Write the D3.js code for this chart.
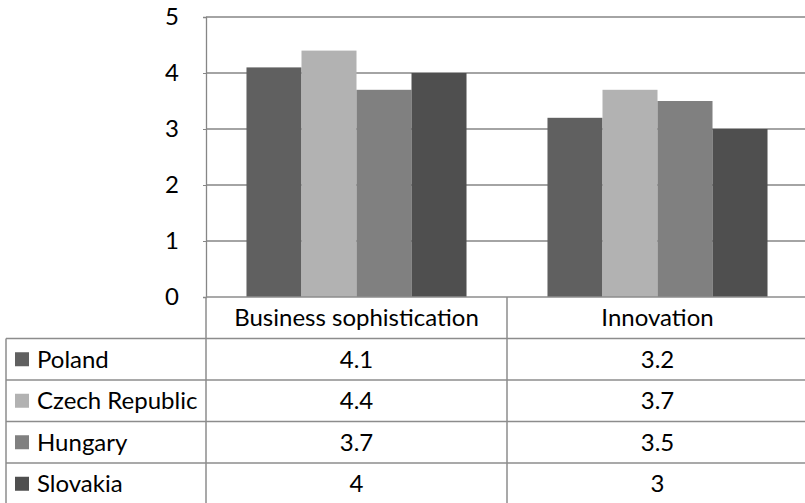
<!DOCTYPE html>
<html>
<head>
<meta charset="utf-8">
<script src="https://cdn.jsdelivr.net/npm/d3@7"></script>
<style>
  html, body { margin: 0; padding: 0; background: #fff; }
  svg { display: block; }
  text { font-family: Lato, "Noto Sans", sans-serif; fill: #000; }
</style>
</head>
<body>
<svg id="chart" width="805" height="503"></svg>
<script>
// ---- data ----
const categories = ["Business sophistication", "Innovation"];
const seriesNames = ["Poland", "Czech Republic", "Hungary", "Slovakia"];
const poland = [4.1, 3.2];
const czechRepublic = [4.4, 3.7];
const hungary = [3.7, 3.5];
const slovakia = [4, 3];
const seriesValues = [poland, czechRepublic, hungary, slovakia];
const yTicks = [0, 1, 2, 3, 4, 5];
const colors = ["#606060", "#b2b2b2", "#808080", "#4f4f4f"];

// ---- layout ----
const svg = d3.select("#chart");
const plotLeft = 206, plotRight = 808, plotTop = 17, plotBottom = 297;
const tableLeft = 6;
const rowH = 41.5;
const fontSize = 24;
const gridColor = "#868686";

const x0 = d3.scaleBand().domain(categories).range([plotLeft, plotRight]).paddingInner(0).paddingOuter(0);
const x1 = d3.scaleBand().domain(seriesNames).range([0, x0.bandwidth()]).paddingInner(0).paddingOuter(0.736);
const y = d3.scaleLinear().domain([0, 5]).range([plotBottom, plotTop]);

// gridlines
svg.append("g").selectAll("line").data(yTicks.filter(t => t > 0)).join("line")
  .attr("x1", plotLeft).attr("x2", plotRight)
  .attr("y1", d => Math.round(y(d))).attr("y2", d => Math.round(y(d)))
  .attr("stroke", gridColor).attr("stroke-width", 1.3);

// bars
const groups = svg.append("g").selectAll("g").data(categories).join("g")
  .attr("transform", d => `translate(${x0(d)},0)`);
groups.selectAll("rect").data((c, ci) => seriesNames.map((s, si) => ({ s, si, v: seriesValues[si][ci] })))
  .join("rect")
  .attr("x", d => x1(d.s))
  .attr("width", x1.bandwidth())
  .attr("y", d => y(d.v))
  .attr("height", d => y(0) - y(d.v))
  .attr("fill", d => colors[d.si]);

// y axis
const yAxis = d3.axisLeft(y).tickValues(yTicks).tickSize(3).tickPadding(24).tickFormat(d3.format("d"));
const ya = svg.append("g").attr("transform", `translate(${plotLeft},0)`).call(yAxis);
ya.select(".domain").attr("stroke", gridColor).attr("stroke-width", 1.3);
ya.selectAll(".tick line").attr("stroke", gridColor);
ya.selectAll(".tick text").style("font-family", "Lato, 'Noto Sans', sans-serif")
  .style("font-size", fontSize + "px").attr("fill", "#000");

// ---- data table ----
const rows = ["__header__", ...seriesNames];
const rowY = d3.scaleBand().domain(rows).range([plotBottom, plotBottom + rows.length * rowH]);
const tbl = svg.append("g");
const lineColor = "#8c8c8c";

// horizontal lines
rows.forEach((r, i) => {
  const yy = rowY(r);
  tbl.append("line")
    .attr("x1", i === 0 ? plotLeft : tableLeft).attr("x2", plotRight)
    .attr("y1", yy).attr("y2", yy)
    .attr("stroke", lineColor).attr("stroke-width", 1.5);
});
tbl.append("line").attr("x1", tableLeft).attr("x2", plotRight)
  .attr("y1", rowY.range()[1]).attr("y2", rowY.range()[1])
  .attr("stroke", lineColor).attr("stroke-width", 1.5);
// vertical lines
tbl.append("line").attr("x1", tableLeft).attr("x2", tableLeft)
  .attr("y1", rowY(seriesNames[0])).attr("y2", rowY.range()[1])
  .attr("stroke", lineColor).attr("stroke-width", 1.5);
categories.forEach(c => {
  tbl.append("line").attr("x1", x0(c)).attr("x2", x0(c))
    .attr("y1", plotBottom).attr("y2", rowY.range()[1])
    .attr("stroke", lineColor).attr("stroke-width", 1.5);
});

const baseOff = fontSize * 0.36;
// header texts
categories.forEach(c => {
  tbl.append("text").attr("x", x0(c) + x0.bandwidth() / 2)
    .attr("y", rowY("__header__") + rowH / 2 + baseOff)
    .attr("text-anchor", "middle").style("font-size", fontSize + "px").text(c);
});
// series rows
seriesNames.forEach((s, si) => {
  const cy = rowY(s) + rowH / 2;
  tbl.append("rect").attr("x", 15).attr("y", cy - 7).attr("width", 14).attr("height", 14).attr("fill", colors[si]);
  tbl.append("text").attr("x", 37).attr("y", cy + baseOff).style("font-size", fontSize + "px").text(s);
  categories.forEach((c, ci) => {
    tbl.append("text").attr("x", x0(c) + x0.bandwidth() / 2).attr("y", cy + baseOff)
      .attr("text-anchor", "middle").style("font-size", fontSize + "px")
      .text(String(seriesValues[si][ci]));
  });
});
</script>
</body>
</html>
